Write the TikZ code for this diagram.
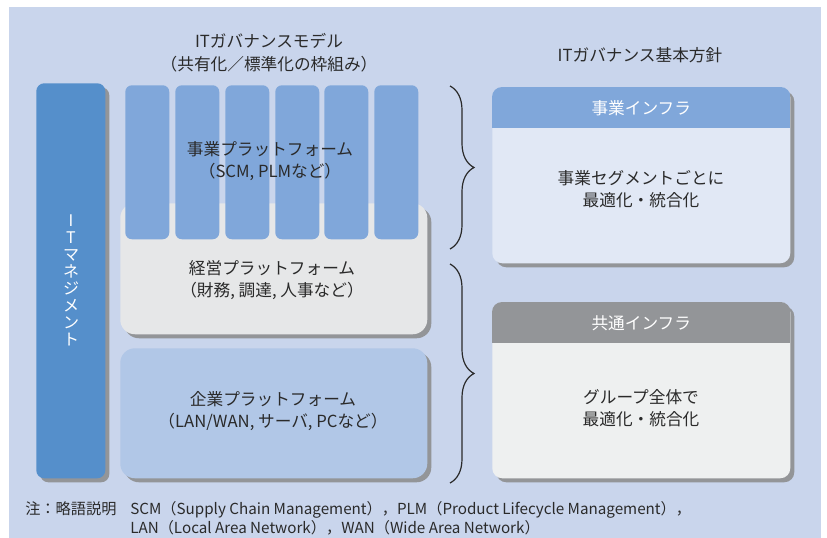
\documentclass[tikz,border=0pt]{standalone}
\usepackage{fontspec}
\setmainfont{Noto Sans CJK JP}
\usetikzlibrary{shadows,decorations.pathreplacing}

\definecolor{bgblue}{HTML}{C9D5EC}
\definecolor{itblue}{HTML}{558FCB}
\definecolor{colblue}{HTML}{80A7DA}
\definecolor{mgmtgray}{HTML}{E6E7E8}
\definecolor{entblue}{HTML}{B1C7E7}
\definecolor{bizbody}{HTML}{E1E8F5}
\definecolor{hdrgray}{HTML}{939598}
\definecolor{combody}{HTML}{EEF0F0}
\definecolor{shadowgray}{HTML}{939598}
\definecolor{textgray}{HTML}{2A2A2A}

\begin{document}
\begin{tikzpicture}[x=0.75pt,y=-0.75pt]
    \tikzstyle{every node}=[inner sep=0pt, text=textgray, font=\fontsize{12.5}{16.5}\selectfont]
    \tikzstyle{block}=[rectangle, anchor=north west, drop shadow={shadow xshift=3pt, shadow yshift=-3pt, fill=shadowgray, opacity=1}]
    \tikzstyle{column}=[rectangle, anchor=north west, fill=colblue, rounded corners=5pt, minimum width=33pt, minimum height=115.5pt]
    \tikzstyle{header}=[rectangle, anchor=north west, minimum width=223.5pt, minimum height=30.75pt, text=white]
    \tikzstyle{footnote}=[anchor=west, align=left, font=\fontsize{11.4}{14.25}\selectfont]
    \tikzstyle{brace}=[decorate, decoration={brace, amplitude=18pt, aspect=0.5}, draw=textgray, line width=0.9pt]

    \useasboundingbox (0,0) rectangle (827,538);
    \fill[white] (0,0) rectangle (827,538);
    \fill[bgblue] (9,7) rectangle (821,538);

    % titles
    \node[align=center, font=\fontsize{12.5}{17}\selectfont] (modeltitle) at (269,53) {ITガバナンスモデル\\（共有化／標準化の枠組み）};
    \node (policytitle) at (640,55) {ITガバナンス基本方針};

    % IT management
    \node[block, fill=itblue, rounded corners=6pt, minimum width=51.75pt, minimum height=296.25pt] (itmgmt) at (36,83) {};
    \node[align=center, text=white, font=\fontsize{12}{12.75}\selectfont] (itmgmttext) at (71,280) {I\\T\\マ\\ネ\\ジ\\メ\\ン\\ト};

    % platforms
    \node[block, fill=mgmtgray, rounded corners=11pt, minimum width=230.25pt, minimum height=98.25pt] (mgmt) at (120,203) {};
    \node[block, fill=entblue, rounded corners=11pt, minimum width=230.25pt, minimum height=97.5pt] (ent) at (120,348) {};
    \foreach \x/\n in {125/1,175/2,225/3,275/4,324/5,374/6}
        \node[column] (col\n) at (\x,85) {};
    \node[align=center] (biztext) at (270,161) {事業プラットフォーム\\（SCM, PLMなど）};
    \node[align=center] (mgmttext) at (272,280) {経営プラットフォーム\\（財務, 調達, 人事など）};
    \node[align=center] (enttext) at (273,411) {企業プラットフォーム\\（LAN/WAN, サーバ, PCなど）};

    % braces
    \coordinate (b1top) at (450,86);
    \coordinate (b1bot) at (450,249);
    \coordinate (b2top) at (450,264);
    \coordinate (b2bot) at (450,483);
    \draw[brace] (b1top) -- (b1bot);
    \draw[brace] (b2top) -- (b2bot);

    % infrastructure
    \node[block, fill=bizbody, rounded corners=7.5pt, minimum width=223.5pt, minimum height=132pt] (bizinfra) at (492,87) {};
    \begin{scope}
        \clip[rounded corners=7.5pt] (bizinfra.north west) rectangle (bizinfra.south east);
        \node[header, fill=colblue] (bizhead) at (bizinfra.north west) {事業インフラ};
    \end{scope}
    \node[align=center] (bizinfratext) at (641,189) {事業セグメントごとに\\最適化・統合化};

    \node[block, fill=combody, rounded corners=7.5pt, minimum width=223.5pt, minimum height=132pt] (cominfra) at (492,302) {};
    \begin{scope}
        \clip[rounded corners=7.5pt] (cominfra.north west) rectangle (cominfra.south east);
        \node[header, fill=hdrgray] (comhead) at (cominfra.north west) {共通インフラ};
    \end{scope}
    \node[align=center] (cominfratext) at (641,408) {グループ全体で\\最適化・統合化};

    % note
    \node[footnote] (notelabel) at (25,509) {注：略語説明};
    \node[footnote] (notetext) at (130,518.5) {SCM（Supply Chain Management），PLM（Product Lifecycle Management），\\LAN（Local Area Network），WAN（Wide Area Network）};
\end{tikzpicture}
\end{document}
